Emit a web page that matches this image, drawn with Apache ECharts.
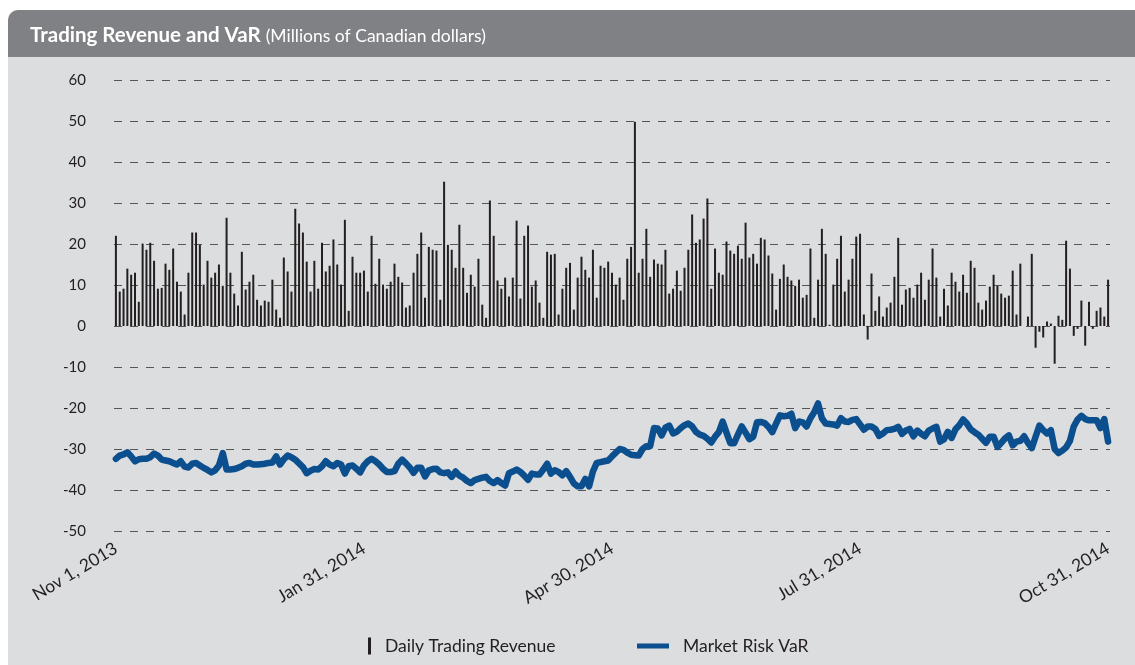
<!DOCTYPE html>
<html>
<head>
<meta charset="utf-8">
<script src="https://cdn.jsdelivr.net/npm/echarts@6/dist/echarts.min.js"></script>
<style>
  html, body { margin: 0; padding: 0; background: #fff; }
  #chart { width: 1135px; height: 665px; }
</style>
</head>
<body>
<div id="chart"></div>
<script>
// daily trading revenue, one bar per trading day (Nov 1, 2013 .. Oct 31, 2014)
const revenue = [
  22.0, 8.4, 9.1, 14.0, 12.5, 13.0, 5.9, 20.1, 18.6, 20.3, 15.9, 9.1, 9.3, 15.2, 13.7, 18.9,
  10.8, 8.4, 2.8, 13.0, 22.8, 22.8, 19.8, 10.1, 15.9, 11.8, 13.0, 15.0, 9.8, 26.4, 13.0, 7.9,
  5.0, 18.1, 8.9, 10.8, 12.5, 6.4, 5.0, 6.2, 5.9, 11.3, 4.0, 2.0, 16.7, 13.3, 8.4, 28.6,
  25.0, 22.8, 15.7, 8.4, 15.9, 9.1, 20.3, 13.3, 14.7, 21.1, 15.0, 10.1, 25.9, 3.7, 16.9, 13.0,
  13.0, 13.5, 8.4, 22.0, 10.3, 16.4, 10.1, 9.1, 10.8, 15.2, 12.0, 10.6, 4.5, 5.0, 13.0, 17.6,
  22.8, 6.9, 19.3, 18.6, 18.4, 6.4, 35.2, 19.8, 18.6, 14.2, 24.7, 14.2, 8.1, 12.5, 9.6, 16.4,
  5.2, 2.0, 30.6, 22.0, 11.1, 9.1, 11.8, 7.2, 11.8, 25.7, 6.7, 22.0, 24.5, 9.6, 11.1, 5.7,
  2.0, 18.1, 17.4, 17.6, 2.8, 9.1, 14.2, 15.4, 4.0, 11.8, 16.9, 13.7, 11.8, 18.6, 6.9, 14.7,
  14.2, 15.7,
  13.0, 10.1, 11.8, 6.4, 16.4, 19.3, 49.8, 13.0, 16.4, 23.7, 12.0, 16.2, 15.2, 15.0, 18.6, 7.9,
  9.1, 13.5, 8.6, 14.2, 18.6, 27.2, 20.3, 21.1, 26.2, 31.1, 9.1, 18.9, 13.0, 12.5, 20.6, 18.4,
  17.6,
  19.6, 16.4, 25.2, 16.7, 17.6, 15.2, 21.5, 21.1, 17.2, 12.8, 4.0, 11.5, 15.0, 12.0, 11.1, 9.8,
  11.3, 6.9, 7.6, 18.9, 2.0, 11.3, 23.7, 17.6, 0.3, 10.1, 16.4, 22.0, 8.4, 11.3, 16.4, 21.8,
  22.5,
  2.8, -3.3, 12.8, 3.7, 7.2, 2.3, 4.5, 5.7, 12.0, 21.5, 5.2, 8.9, 9.3, 6.9, 10.1, 13.0,
  6.4, 11.3, 18.9, 11.8, 2.3, 9.1, 5.0, 13.0, 10.8, 8.4, 12.5, 8.1, 15.9, 14.2, 5.7, 4.0,
  6.2, 9.6, 12.5, 9.8, 7.9, 6.9, 7.4, 13.5, 2.8, 15.2, 0, 2.3, 17.6, -5.3, -1.4, -2.8,
  1.1, 0.6, -9.2, 2.5, 1.5, 20.8, 14.0, -2.4, -0.7, 6.2, -4.8, 5.9, -0.7, 3.7, 4.5, 2.3,
  11.3
];

// market risk VaR, same days
const marketVaR = [
  -32.4, -31.6, -31.3, -30.8, -31.8, -33.0, -32.5, -32.4, -32.4, -32.0,
  -31.1, -31.6, -32.6, -32.8, -33.0, -33.4, -33.8, -33.0, -34.3, -34.5,
  -33.6, -33.4, -34.0, -34.6, -35.1, -35.7, -35.2, -34.0, -31.0, -35.0,
  -35.0, -34.9, -34.6, -34.2, -33.6, -33.4, -33.8, -33.8, -33.7, -33.6,
  -33.4, -33.3, -31.8, -33.8, -32.5, -31.6, -32.0, -32.6, -33.5, -34.4,
  -35.9, -35.3, -34.9, -35.0, -34.2, -33.0, -33.8, -34.2, -33.4, -33.8,
  -36.0, -34.2, -34.0, -34.8, -35.7, -34.0, -33.0, -32.4, -33.0, -33.8,
  -34.8, -35.6, -35.6, -35.4, -33.6, -32.6, -33.5, -34.5, -35.8, -34.6,
  -34.6, -36.7, -35.2, -34.9, -34.8, -35.7, -35.9, -35.7, -36.8, -35.5,
  -36.5, -37.0, -37.8, -38.3, -37.6, -37.3, -37.0, -36.8, -37.8, -38.3,
  -37.6, -38.3, -38.9, -35.9, -35.5, -35.0, -35.6, -36.5, -37.5, -36.0,
  -36.2, -36.2, -35.0, -33.6, -36.0, -35.2, -35.6, -36.4, -35.4, -36.8,
  -38.4, -39.1, -39.1, -37.3, -39.1, -35.5, -33.4, -33.2, -33.0, -32.8,
  -31.8, -30.9, -30.0, -30.2, -30.9, -31.4, -31.5, -31.6, -30.0, -29.3,
  -29.3, -24.9, -25.0, -26.7, -24.8, -24.3, -26.2, -25.8, -24.9, -24.2,
  -23.8, -24.5, -25.8, -26.5, -26.8, -27.5, -28.4, -27.0, -25.9, -23.3,
  -26.0, -28.6, -28.6, -26.5, -24.5, -26.0, -27.6, -27.0, -23.5, -23.4,
  -23.7, -24.6, -25.9, -23.8, -21.8, -22.0, -21.9, -21.4, -24.9, -23.3,
  -23.5, -24.5, -22.5, -21.0, -18.9, -22.5, -23.8, -23.9, -24.0, -24.3,
  -22.5, -23.3, -23.4, -22.9, -22.7, -24.0, -25.3, -24.5, -24.5, -25.1,
  -26.8, -26.2, -25.4, -25.3, -25.1, -24.6, -26.3, -25.5, -25.1, -26.9,
  -25.5, -26.3, -26.9, -25.5, -25.0, -24.6, -28.2, -27.6, -25.8, -27.3,
  -25.2, -24.2, -22.8, -23.8, -25.2, -25.9, -26.5, -27.5, -28.5, -27.0,
  -27.0, -29.5, -28.5, -27.4, -26.7, -29.1, -28.2, -28.0, -26.9, -28.5,
  -29.8, -27.0, -24.3, -25.4, -26.2, -25.4, -30.0, -31.0, -30.4, -29.6,
  -28.0, -24.5, -22.8, -21.9, -22.7, -23.0, -23.0, -23.0, -24.9, -22.7,
  -28.2
];

// x axis tick labels and the trading-day index they sit on
const tickLabels = ['Nov 1, 2013', 'Jan 31, 2014', 'Apr 30, 2014', 'Jul 31, 2014', 'Oct 31, 2014'];
const tickIndex = [0, 65, 130, 195, 260];

const days = revenue.map((v, i) => String(i));

const FONT = 'Lato';

let chart = echarts.init(document.getElementById('chart'), null, {renderer: 'canvas'});

let option = {
  backgroundColor: '#ffffff',
  animation: false,
  graphic: [
    {
      type: 'rect', z: -10, silent: true,
      shape: {x: 8, y: 10, width: 1140, height: 670, r: [10, 0, 0, 0]},
      style: {fill: '#dcdddf'}
    },
    {
      type: 'rect', z: -9, silent: true,
      shape: {x: 8, y: 10, width: 1140, height: 47, r: [10, 0, 0, 0]},
      style: {fill: '#808184'}
    }
  ],
  title: {
    text: '{b|Trading Revenue and VaR} {s|(Millions of Canadian dollars)}',
    left: 25,
    top: 20,
    textStyle: {
      rich: {
        b: {fontFamily: FONT, fontSize: 20.5, fontWeight: 'bold', color: '#ffffff'},
        s: {fontFamily: FONT, fontSize: 17.5, fontWeight: 'normal', color: '#ffffff', padding: [2, 0, 0, 0]}
      }
    }
  },
  legend: [
    {
      data: ['Daily Trading Revenue'],
      left: 363,
      top: 632,
      icon: 'rect',
      itemWidth: 3,
      itemHeight: 17,
      textStyle: {fontFamily: FONT, fontSize: 17.5, color: '#231f20', padding: [0, 0, 0, 9]}
    },
    {
      data: ['Market Risk VaR'],
      left: 632,
      top: 632,
      icon: 'rect',
      itemWidth: 32,
      itemHeight: 5,
      textStyle: {fontFamily: FONT, fontSize: 17.5, color: '#231f20', padding: [0, 0, 0, 9]}
    }
  ],
  grid: {left: 114, right: 25, top: 80, bottom: 134},
  xAxis: {
    type: 'category',
    data: days,
    boundaryGap: true,
    axisLine: {show: false},
    axisTick: {show: false},
    axisLabel: {
      interval: (i) => tickIndex.includes(i),
      formatter: (v, i) => tickLabels[tickIndex.indexOf(Number(v))] || '',
      rotate: 31,
      margin: 16,
      fontFamily: FONT,
      fontSize: 17.5,
      color: '#231f20'
    },
    splitLine: {show: false}
  },
  yAxis: {
    type: 'value',
    min: -50,
    max: 60,
    interval: 10,
    axisLine: {show: false},
    axisTick: {show: false},
    axisLabel: {fontFamily: FONT, fontSize: 15, color: '#231f20', margin: 28},
    splitLine: {lineStyle: {color: '#555555', width: 1, type: [8, 8]}}
  },
  series: [
    {
      name: 'Daily Trading Revenue',
      type: 'bar',
      data: revenue,
      barWidth: 2,
      itemStyle: {color: '#231f20'}
    },
    {
      name: 'Market Risk VaR',
      type: 'line',
      data: marketVaR,
      symbol: 'none',
      lineStyle: {color: '#0b4f8e', width: 6.5, join: 'round', cap: 'round'},
      itemStyle: {color: '#0b4f8e'}
    }
  ]
};

chart.setOption(option);
</script>
</body>
</html>
